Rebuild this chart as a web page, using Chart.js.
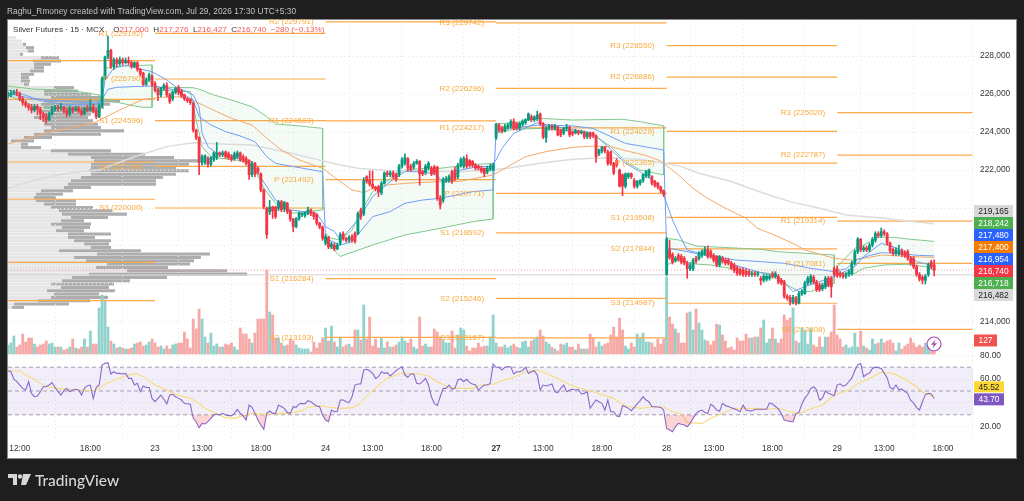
<!DOCTYPE html>
<html>
<head>
<meta charset="utf-8">
<title>Silver Futures</title>
<script src="https://cdn.jsdelivr.net/npm/chart.js@4/dist/chart.umd.min.js"></script>
<style>
body { margin:0; background:#1e1e1e; width:1024px; height:501px; overflow:hidden; position:relative; font-family:"Liberation Sans",sans-serif; }
#panel { position:absolute; left:7px; top:19px; width:1008px; height:438px; background:#fff; border:1px solid #8a8a8a; }
canvas { position:absolute; left:0; top:0; }
#head { position:absolute; left:7px; top:6px; font-size:8.3px; color:#c4c4c4; letter-spacing:.05px; white-space:pre; }
#title { position:absolute; left:13px; top:25px; font-size:8.1px; color:#333; white-space:pre; }
#title span { color:#f0585a; }
#logo { position:absolute; left:35px; top:471px; font:500 15.5px Lato,sans-serif; color:#d6d6d6; }
#mark { position:absolute; left:8px; top:474px; }
</style>
</head>
<body>
<div id="panel"></div>
<canvas id="profile" width="1024" height="501"></canvas>
<canvas id="chart" width="1024" height="501"></canvas>
<div id="head">Raghu_Rmoney created with TradingView.com, Jul 29, 2026 17:30 UTC+5:30</div>
<div id="title">Silver Futures · 15 · MCX    O<span>217,000</span>  H<span>217,276</span>  L<span>216,427</span>  C<span>216,740</span>  <span>−280 (−0.13%)</span></div>
<svg id="mark" width="24" height="12" viewBox="0 0 24 12"><path d="M0 0h9v11H5V4H0z M15 0h8l-5 11h-5z" fill="#d6d6d6"/><circle cx="12" cy="2.5" r="2.2" fill="#d6d6d6"/></svg>
<div id="logo">TradingView</div>
<script>
// candles, one line per session
const opens = [
225900,225950,226050,226100,226000,225750,225550,225400,225300,225150,225350,225200,224950,224800,224650,224950,225200,225300,225250,225300,225100,224950,225250,225150,225250,225100,224950,225250,225150,225300,225100,224800,225400,226800,227950,228300,227450,227800,227600,227800,227650,227750,227650,227450,227650,227300,227100,226500,226750,226950,
226550,226200,225950,226300,226450,225950,225750,226100,226350,226150,225950,225750,225700,225500,224100,223700,222400,222400,222600,222300,222550,222650,222900,222800,222950,222850,222700,222600,222700,222900,222700,222600,222500,221750,222350,222100,221800,220950,219980,219800,220050,220050,219980,220330,219950,220250,219850,219420,219020,219450,219650,219600,219720,219900,219750,219650,219200,219000,
218150,218450,217950,218050,217850,218150,218650,218400,218300,218500,218650,218650,219900,219700,221650,221450,221250,221100,221100,220800,221300,221850,221750,221850,221750,221750,222200,222350,222600,222200,222150,222350,222450,221900,221850,222100,222100,222150,222150,220500,220400,221450,221450,221900,222000,221650,222250,222200,222600,222500,222450,222250,222200,222100,222100,221900,222050,222000,
223700,224350,224200,224050,224250,224300,224550,224450,224200,224400,224500,224650,224800,224650,224700,224950,224450,223700,224200,224300,224200,224250,224100,223950,224200,224250,224000,223950,224050,223950,224000,223750,223950,223950,223800,222850,223000,223200,222950,222950,222350,222500,222000,221750,221150,221650,221800,221450,221150,221300,221450,221700,221700,221650,221400,221300,221100,220900,
216500,217800,217550,217250,217500,217450,217350,217100,216800,216800,217350,217350,217500,217600,217800,217700,217500,217450,217000,217350,217250,217250,217100,217000,216850,216750,216750,216650,216650,216500,216550,216500,216300,216200,216250,216300,216550,216400,216400,216200,216100,215350,215300,215050,215250,215000,215500,215500,216050,216100,216350,216100,215950,215750,215850,216300,216300,216800,
216800,216550,216500,216400,216500,216550,217100,217700,218350,217800,217900,217800,218050,218300,218650,218550,218750,218650,218150,217800,217600,217600,217750,217650,217700,217350,217350,216900,216500,216350,216200,216500,217150,217000];
const closes = [
225950,226050,226100,226000,225750,225550,225400,225300,225150,225350,225200,224950,224800,224650,224950,225200,225300,225250,225300,225100,224950,225250,225150,225250,225100,224950,225250,225150,225300,225100,224800,225400,226800,227950,228300,227450,227800,227600,227800,227650,227750,227650,227450,227650,227300,227050,226500,226750,227000,226500,
226200,225950,226300,226450,225950,225600,226100,226300,226050,225900,225750,225650,225550,224100,223700,222400,222700,222750,222300,222650,222900,222900,222800,222900,222700,222650,222550,222850,222900,222550,222500,222350,221750,222350,221800,221900,220950,220070,218600,220050,219850,219550,220330,219900,220280,219800,219420,219020,219450,219720,219720,219770,219900,219700,219550,219200,219000,218400,
218500,217950,218100,217850,218050,218600,218400,218300,218450,218300,218250,219700,219550,221450,221400,221250,221100,221000,220850,221300,221850,221750,221850,221650,221500,222200,222550,222650,222100,222000,222350,222450,221800,221800,222200,222350,221800,221850,220500,220150,221500,221550,221650,221400,221550,222250,222550,222600,222200,222250,222250,222100,222100,221950,221800,222100,222200,222250,
224400,224100,224050,224300,224350,224550,224200,224200,224450,224550,224650,224950,224650,224800,224900,224450,223750,224200,224300,224200,224300,223850,223850,224200,224250,223850,223900,224050,223950,224000,223750,223950,223750,223800,222700,223050,223200,223000,222350,222350,221850,222250,221150,221150,221800,221800,221650,221150,221400,221450,221750,221900,222000,221300,221200,221100,220900,220700,
218350,217400,217150,217350,217300,217150,217100,216800,217000,217250,217200,217600,217700,217800,217450,217450,217250,217000,217450,217200,217100,217100,216850,216700,216550,216550,216500,216500,216500,216550,216500,216550,216200,216400,216400,216400,216400,216550,216100,216050,215350,215250,215050,215300,215000,215500,215600,216050,216300,216400,216100,215700,215700,215950,216300,215950,215850,216500,
216450,216450,216400,216500,216650,217100,217700,218350,217800,217900,217800,218050,218350,218650,218550,218750,218650,218150,217750,217600,217800,217750,217550,217500,217350,217100,216900,216500,216250,216200,216400,217000,216900,216740];
const highs = [
226100,226200,226200,226250,226100,225850,225650,225500,225450,225450,225450,225300,225050,224950,225050,225350,225400,225400,225500,225350,225250,225350,225300,225350,225350,225250,225300,225400,225700,225450,225250,225500,226900,228000,229050,228350,227900,227900,227950,227900,227900,227950,227750,227700,227700,227350,227150,226850,227100,227000,
226650,226300,226350,226550,226600,226050,226150,226350,226450,226250,226000,225800,225750,225550,224150,223750,222800,222800,222700,222700,222950,223450,222950,223000,223000,222950,222800,222950,223000,222950,222800,222700,222550,222450,222400,222150,221850,221000,220050,220400,220100,220100,220400,220400,220350,220300,219900,219450,219500,219800,219750,219800,220050,219950,219800,219700,219250,219050,
218600,218500,218200,218150,218150,218700,218750,218450,218550,218600,218750,219800,220000,221600,221700,221950,221950,221150,221200,221400,221900,221950,221950,221950,221850,222300,222650,222850,222650,222300,222450,222550,222500,222000,222300,222450,222200,222250,222200,220650,221600,221650,221750,222000,222150,222350,222650,222700,222800,222550,222500,222350,222250,222200,222000,222200,222300,222350,
224450,224450,224300,224400,224450,224650,224700,224500,224500,224650,224700,225000,224900,224850,225100,225000,224500,224300,224400,224400,224400,224300,224150,224250,224400,224300,224050,224150,224100,224100,224050,224000,224000,224000,223850,223100,223250,223250,223050,223000,222400,222600,222050,221800,221850,221850,221850,221550,221450,221500,221800,222000,222050,221700,221450,221350,221150,220950,
218450,218300,217650,217450,217600,217550,217450,217200,217100,217350,217450,217700,217800,217950,218000,217800,217600,217500,217500,217450,217350,217350,217200,217100,216950,216850,216850,216800,216750,216650,216650,216650,216400,216500,216500,216500,216650,216650,216500,216300,216200,215450,215400,215400,215350,215600,215700,216150,216400,216500,216450,216200,216050,216050,216400,216400,216400,216900,
216950,216650,216600,216600,216750,217200,217800,218450,218400,218000,218000,218150,218450,218750,218750,218950,218850,218700,218200,217900,217900,218050,217850,217750,217800,217450,217450,217000,216600,216450,216500,217100,217250,217276];
const lows = [
225800,225850,225950,225900,225650,225400,225300,225150,225000,225050,224900,224650,224550,224450,224600,224900,225100,225100,225150,225000,224800,224850,225000,225100,225000,224850,224900,225050,225100,225000,224700,224750,225300,226750,227850,227350,227300,227450,227500,227550,227600,227550,227350,227400,227200,226950,226450,226450,226650,226400,
226100,225650,225850,226200,225850,225500,225650,226000,225950,225800,225650,225550,225450,224000,223600,221750,222250,222300,222150,222200,222450,222550,222700,222700,222600,222550,222450,222500,222600,222450,222400,222250,221500,221650,221650,221800,220850,219950,218400,219650,219450,219450,219850,219800,219800,219700,219300,218750,218950,219350,219550,219500,219650,219600,219400,219100,218900,218300,
218050,217850,217850,217750,217800,218050,218300,218200,218200,218200,218150,218600,219400,219600,221300,221150,221000,220900,220600,220700,221250,221650,221650,221550,221400,221650,222100,222250,221950,221950,222050,222300,221200,221700,221750,222000,221700,221750,220400,219950,220300,221350,221350,221300,221450,221550,222150,222100,222100,222150,222150,222000,222000,221850,221650,221800,221950,221950,
223600,224000,223950,224000,224150,224200,224100,224100,224100,224300,224400,224600,224550,224550,224600,224350,223650,223450,224100,224100,224100,223800,223750,223850,224050,223750,223800,223900,223850,223900,223650,223650,223650,223700,222400,222750,222900,222900,222250,222250,221750,222150,221100,220650,221050,221550,221550,221050,221050,221200,221350,221600,221600,221200,221100,221000,220800,220600,
216450,217300,217050,217150,217200,217050,217000,216300,216700,216700,217100,217250,217400,217500,217350,217350,217150,216900,216900,217100,217000,217000,216750,216600,216450,216450,216400,216400,216400,216400,216400,216400,215950,216100,216150,216200,216300,216300,216000,215950,215250,215150,214900,214950,214900,214950,215400,215450,215950,216000,216000,215600,215600,215650,215750,215850,215300,216400,
216350,216350,216300,216300,216400,216450,217000,217600,217700,217700,217700,217700,217950,218200,218450,218450,218550,218050,217650,217500,217500,217500,217450,217400,217250,217000,216800,216400,216150,216000,216000,216400,216800,216427];
const volumes = [
450,550,900,350,450,1000,600,800,800,500,350,450,500,650,500,550,350,350,350,200,250,350,750,300,250,350,750,350,1150,500,500,2300,2950,2700,1350,650,500,300,350,300,250,250,300,500,550,600,400,450,600,750,
550,350,400,250,400,250,450,500,550,550,1100,750,300,1750,1250,2250,1750,850,550,1050,400,500,350,350,500,450,550,350,200,1300,1000,1000,750,550,1050,1750,1750,1750,4200,2100,1950,800,800,550,400,450,750,650,450,300,250,250,250,100,600,300,550,800,
1300,650,1400,600,350,850,350,450,500,350,1200,1200,700,2450,750,1850,400,750,300,800,300,600,350,350,450,600,850,650,550,750,350,250,1850,400,500,350,350,1250,1100,800,700,550,550,1150,300,950,1300,1200,400,150,300,300,550,350,400,400,850,1950,
550,350,350,450,300,400,500,350,300,600,650,350,650,750,850,1200,900,600,500,350,250,150,500,450,550,350,350,200,500,250,250,250,1000,800,350,600,400,500,550,950,1350,850,1800,1200,400,250,550,350,1000,800,1050,600,600,550,350,750,500,750,
3850,1850,1500,1250,1050,550,550,2050,2100,1200,2250,1550,1200,700,650,450,650,1500,1450,950,650,300,350,200,800,650,650,1000,800,800,850,850,1300,1700,550,750,1300,750,550,750,1950,1700,1800,2300,650,550,1300,1200,500,1250,450,350,850,350,850,850,1100,
2450,950,750,350,450,300,350,1050,350,1150,400,300,200,750,500,550,750,550,650,700,550,150,550,250,400,500,800,550,350,450,350,550,300,125,127];
const rsi = [
67.1,66.2,60,57.8,55,52.2,50.8,57.8,48,45.2,45.8,49.4,53.6,53.6,55,57,53,49.4,46.6,50.3,52.2,49.4,50.8,51.4,50.8,46.6,52.2,54.5,55,43.8,53,55,71.8,73.2,73.8,64.3,66.2,64.8,64.8,64.3,64.8,60.6,60.6,55,56.4,49.4,54.2,53,53,43.8,41,43.8,
46.6,43,39.1,46.6,47.2,45.2,43.8,42.4,39.6,39.1,39.1,27,24.2,19.2,22.8,22.3,24.2,27,29.8,30.7,29.8,31.2,29.8,29.3,29.3,31.2,34.6,31.2,29,25.6,38.2,36.3,31.2,25.6,21.4,17.8,31.2,33.2,31.2,31.2,38.2,36.8,35.4,31.8,31.2,36.8,36.3,39.1,39.6,39.1,41.9,41,39.1,37.4,36.8,29.8,25.6,24.2,34,32.6,33,
42.4,42.4,41,40.2,45.2,55,55.9,55.9,67.6,68.2,67.1,64.8,60.6,62,66.2,64.8,65.4,62.6,64.8,67.1,69,70.4,63.4,61.5,64.3,64.3,56.4,55.9,57.8,60.6,55,45.2,39.6,37.7,45.2,52.2,52.2,55,51.4,52.2,59.2,60.1,57.8,59.8,57,55.9,55,50.8,53,55,55,56.4,
72.7,69.9,69.9,67.6,69.9,70.4,70.4,64.3,66.2,66.2,67.1,69.9,64.8,66.2,67.1,63.4,50.8,55,54.2,55,55.9,49.4,48.6,52.2,55,49.4,50.8,51.4,50.8,51.4,47.5,48,49.4,35.4,39.1,42.4,41,39.6,34,42.4,32.6,32.6,29,28.4,37.7,36.8,35.4,33.5,36.3,39.1,41.9,45.2,42.4,41,36.8,36.8,36.5,36.2,34,18.6,17.2,15.8,20,22.8,
22,21.4,20,22.8,27,31,33,34,32,31,39,37,34,33,39.6,37.7,37,36,35,34,32.6,38,34,33.5,33.2,34.5,34.6,34.6,34.6,34.6,40,39,37,35,31,25.6,25,24.5,24.2,31,32,39,44,47,52,53.6,51,42.4,44,50,48,47,46,
55,56,54,55,58,61,67,72,73,62,64,65,69,70,69.5,69,65,61,53,51.5,55,51,51.5,49.5,48,42,40,36,34,41,47,48,47.5,43.7];
const rsiMaBars = [0,4,6,9,11,13,17,20,24,29,31,33,36,39,42,44,47,50,54,57,62,65,67,71,74,77,80,83,87,90,93,97,100,102,106,109,113,117,119,123,126,129,133,136,140,143,146,150,153,158,161,165,167,172,176,180,183,188,192,199,206,210,215,219,223,226,229,231,236,239,243,246,250,254,259,262,266,269,272,277,281,286,289,293,297,301,305,309,312,315];
const rsiMa = [67,67,63.4,59.8,56.4,53.6,52.2,51.4,50.8,50.3,52.2,55.9,58.7,62,64,64.3,60.6,55,50.8,47.2,43.8,39.6,35.4,30.6,27.6,27,29.3,31.2,30.6,30.6,31.2,31.8,33.5,36.3,37.7,36.3,35.4,36,38.2,48,55,60.6,64.3,64.8,64.3,62.6,57.8,53,52.2,52.2,55,55.6,57.8,61.5,66.2,67.6,64.8,59.2,54.2,49.4,43.8,37.4,35.4,36.8,36.8,32.6,30.7,23.4,22.8,27,31.2,34.6,35.7,35.2,34.6,35.7,32.6,31.2,34,38.2,46.6,50.8,56.4,60.6,65.7,64.8,60.1,53.6,47.5,45.52];
const rsiLevels = [70,50,30];

// moving averages and session vwap
const emaBars = [0,10,20,30,32,33,36,40,44,49,54,57,63,65,66,68,71,76,82,85,88,91,96,105,108,111,113,119,124,130,135,141,146,148,150,154,160,164,166,168,172,177,180,185,199,204,210,215,222,226,228,231,239,247,256,262,267,271,281,288,291,294,297,301,305,309,315];
const ema = [226035,225685,225420,225470,225685,226740,227350,227530,227350,227175,226740,226390,225950,225330,223930,223230,222880,222790,222350,221825,221125,220420,219900,219720,219020,218760,218320,219370,220600,221390,221915,221915,221740,221300,221475,222000,222180,222180,222530,223140,223930,224280,224490,224320,223930,223230,222350,221915,221125,219370,218690,217790,217440,217000,216600,216390,215600,215860,216390,216910,217440,217790,218140,217965,217700,217175,216954];
const slowBars = [0,12,29,38,46,52,60,65,71,76,83,88,93,99,107,113,117,121,124,129,135,147,153,158,165,170,176,183,192,199,205,210,217,222,228,233,237,244,251,255,262,268,271,281,287,291,297,307,315];
const slowEma = [223370,223930,224460,225160,225720,225825,225860,225510,225070,224720,224370,223670,223050,222530,222090,221390,220950,220810,221035,221210,221300,221390,221390,221530,221740,222180,222700,222970,223190,223260,223230,223020,222760,222475,221740,221035,220600,219985,219460,218930,218490,218055,217790,217350,217260,217350,217525,217440,217400];
const smaBars = [0,9,20,31,43,54,63,72,83,94,105,113,119,130,141,152,164,170,181,192,203,215,228,235,246,257,266,276,285,298,307,315];
const sma = [221030,221475,221825,222000,222700,223230,223440,223370,223320,222965,222560,222265,222090,221965,221965,221910,222000,222090,222350,222560,222650,222560,222230,221825,221390,220775,220335,219985,219635,219460,219285,219165];
const vwapBars = [0,4,9,14,21,30,32,34,37,43,49,50,57,63,65,69,74,79,84,88,91,97,107,108,113,117,124,130,135,141,147,158,165,166,170,181,192,199,210,223,224,228,234,239,247,256,264,273,281,282,285,289,293,297,303,310,315];
const vwap = [226210,226035,225770,225685,225600,225510,225720,226250,226350,226390,226420,226420,226210,225685,224810,224370,224020,223790,223490,222700,222350,222180,221910,218400,218050,218230,219545,219810,220250,220420,220510,220860,220950,224020,224190,224370,224320,224190,223400,223050,217900,217790,217615,217530,217265,217175,217090,216825,216650,216700,216800,217300,217500,217650,217600,217500,217480];
const bandTopBars = [[0,9,21,31,31],[32,33,36,43,49,49],[50,56,63,65,70,76,83,88,91,99,107,107],[108,110,113,117,121,124,130,135,142,147,156,165,165],[166,172,181,192,209,215,223,223],[224,228,234,256,262,271,281,281],[282,288,291,296,301,307,315]];
const bandTop = [[226420,226250,226210,225950,225160],[226210,227350,227440,227490,227530,225300],[226350,226350,226330,226250,225950,225685,225330,224810,224420,224320,224190,219900],[218670,218400,218320,218840,220070,220860,221560,222000,222090,222090,222260,222350,219420],[224420,224490,224720,224630,224670,224545,224320,221740],[218400,218320,218000,217825,217700,217615,217530,216035],[216910,217880,218055,218460,218460,218355,218242]];
const bandBotBars = [[0,9,21,31],[32,36,43,46,49],[50,62,64,66,69,72,76,81,84,87,91,97,107],[108,112,113,124,135,147,158,165],[166,172,181,194,200,205,210,215,223],[224,228,234,239,252,259,264,269,273,281],[282,288,291,298,305,312,315]];
const bandBot = [[225950,225330,225190,225160],[225770,225600,225370,225300,225300],[226210,226125,224630,223230,222700,222615,222560,222440,222000,221035,220250,219720,219900],[218300,217600,217450,218050,218580,218930,219280,219420],[223930,224140,224190,224020,223750,223230,222440,222000,221740],[217000,217260,217050,217000,216650,216560,216035,215600,215600,216035],[216560,216560,216825,217000,217035,216910,216718]];

// pivots, one list per session
const pivotStart = [0,50,108,166,224,282];
const pivotEnd = [50,108,166,224,282,328];
const pivotNames = [[],["R1","P","S1","S2","S3"],["R2","R1","P","S1","S2"],["R3","R2","R1","P","S1","S2","S3"],["R3","R2","R1","P","S1","S2","S3"],["R3","R2","R1","P","S1"]];
const pivotValues = [[227754,225720,222420,220460,217142,215120],[229192,226790,224596,222194,220000],[229791,224583,221492,216284,213193],[229742,226296,224217,220771,218692,215246,213167],[228550,226886,224029,222365,219508,217844,214987],[225020,222787,219314,217081,213608]];

// volume profile rows, top row first
const profileLight = [8,14,15,18,20,12,33,25,26,26,22,13,13,13,16,46,36,36,43,36,33,36,30,36,26,36,36,43,36,26,16,3,13,13,43,60,83,86,83,83,81,83,73,63,60,56,33,28,26,28,36,43,51,54,63,53,43,54,48,60,60,66,76,83,51,89,66,78,99,88,119,81,64,54,43,53,39,46,43,30,6,4];
const profileDark = [0,0,3,8,6,3,18,28,17,10,14,13,8,9,5,20,34,47,50,76,69,60,63,47,54,49,54,50,80,67,28,23,7,20,60,77,83,104,98,85,100,85,82,85,88,27,32,27,22,40,32,42,53,65,37,23,40,28,28,43,27,37,25,20,82,113,127,108,83,72,100,158,95,68,63,48,68,45,57,52,55,12];

const tickBars = [4,28,50,66,86,108,124,144,166,182,202,224,240,260,282,298,318];
const tickLabels = ["12:00","18:00","23","13:00","18:00","24","13:00","18:00","27","13:00","18:00","28","13:00","18:00","29","13:00","18:00"];
const priceTicks = [228000,226000,224000,222000,220000,218000,216000,214000];
const hiddenPriceTicks = [220000,218000,216000];
const rsiTicks = [80,60,40,20];
const priceTags = [219165,218242,217480,217400,216954,216740,216718,216482];
const priceTagColors = ["#d9d9d9","#4caf50","#2962ff","#f57c00","#2962ff","#f23645","#4caf50","#d9d9d9"];
const lastPrice = 216740;
const lastLow = 216482;
const lastVolume = 127;
const rsiTags = [45.52,43.70];

const GREEN = "#089981", RED = "#f23645", FONT = '"Liberation Sans",sans-serif';
const pts = (xs, ys) => xs.map((x, i) => ({x: x, y: ys[i]}));
const idx = closes.map((c, i) => i);
const isUp = idx.map(i => closes[i] >= opens[i]);

function lineSet(data, color, order, axis, width) {
    return {type: "line", data: data, borderColor: color, borderWidth: width || 1, pointRadius: 0,
        tension: 0, order: order, yAxisID: axis || "y", fill: false};
}

const datasets = [];
datasets.push({data: idx.map(i => ({x: i, y: [opens[i], closes[i]]})), backgroundColor: idx.map(i => isUp[i] ? GREEN : RED),
    barThickness: 2.2, grouped: false, order: 1, yAxisID: "y"});
datasets.push({data: idx.map(i => ({x: i, y: [lows[i], highs[i]]})), backgroundColor: idx.map(i => isUp[i] ? GREEN : RED),
    barThickness: 1, grouped: false, order: 2, yAxisID: "y"});
datasets.push({data: idx.map(i => ({x: i, y: volumes[i]})), backgroundColor: idx.map(i => isUp[i] ? "#92d2cc" : "#f7a9a7"),
    barThickness: 2.2, grouped: false, order: 9, yAxisID: "yVol"});
datasets.push(lineSet(pts(emaBars, ema), "#6f9df7", 3));
datasets.push(lineSet(pts(vwapBars, vwap), "#6f9df7", 3));
datasets.push(lineSet(pts(slowBars, slowEma), "#f5a868", 5));
datasets.push(lineSet(pts(smaBars, sma), "#dcdcdc", 6, "y", 1.5));
bandTop.forEach((vals, s) => {
    const top = lineSet(pts(bandTopBars[s], vals), "#82c98c", 7);
    top.fill = "+1";
    top.backgroundColor = "rgba(76,175,80,0.06)";
    datasets.push(top);
    datasets.push(lineSet(pts(bandBotBars[s], bandBot[s]), "#82c98c", 7));
});
const pivotLine = [];
pivotValues.forEach((vals, s) => vals.forEach(v => {
    pivotLine.push({x: pivotStart[s], y: v}, {x: pivotEnd[s], y: v}, {x: pivotEnd[s], y: null});
}));
datasets.push(lineSet(pivotLine, "#ffa94d", 8, "y", 1.2));
const lastLine = lineSet(pts([0, 329], [lastPrice, lastPrice]), "#f4a0a0", 8);
lastLine.borderDash = [1, 2];
datasets.push(lastLine);
datasets.push(lineSet(pts([0, 329], [lastLow, lastLow]), "#d0d0d0", 8));
// rsi pane
const rsiLine = lineSet(idx.map(i => ({x: i, y: rsi[i]})), "#8a68cc", 3, "yRsi", 1.1);
rsiLine.fill = {target: {value: 30}, above: "rgba(0,0,0,0)", below: "rgba(239,83,80,0.25)"};
datasets.push(rsiLine);
datasets.push(lineSet(pts(rsiMaBars, rsiMa), "#f7dc7c", 4, "yRsi", 1.1));
rsiLevels.forEach(lv => {
    const d = lineSet(pts([0, 329], [lv, lv]), "#a39fb0", 10, "yRsi");
    d.borderDash = [4, 3];
    datasets.push(d);
});
const rsiFill = lineSet(pts([0, 329], [70, 70]), "rgba(0,0,0,0)", 11, "yRsi");
rsiFill.fill = {target: {value: 30}, above: "rgba(126,87,194,0.10)", below: "rgba(0,0,0,0)"};
datasets.push(rsiFill);

// pivot labels, rsi axis labels, value tags and the little bolt badge
const overlay = {
    id: "overlay",
    afterDraw(chart) {
        const c = chart.ctx, s = chart.scales;
        c.save();
        c.textBaseline = "middle";
        c.font = "8px " + FONT;
        c.textAlign = "right";
        c.fillStyle = "#f9a93c";
        pivotNames.forEach((names, n) => names.forEach((name, k) => {
            c.fillText(name + " (" + pivotValues[n][k] + ")", s.x.getPixelForValue(pivotStart[n]) - 12, s.y.getPixelForValue(pivotValues[n][k]));
        }));
        // the rsi axis has no room of its own, so its labels go here
        c.textAlign = "left";
        c.fillStyle = "#333";
        c.font = "8.4px " + FONT;
        rsiTicks.forEach(v => c.fillText(v.toFixed(2), 980, s.yRsi.getPixelForValue(v)));
        // tags stack downwards from the top one, the way the platform spreads them
        c.textAlign = "center";
        priceTags.forEach((v, k) => {
            tag(c, 974, 205 + k * 12, 39, 12, priceTagColors[k], priceTagColors[k] === "#d9d9d9" ? "#222" : "#fff", v.toLocaleString("en-US"));
        });
        const volY = s.yVol.getPixelForValue(lastVolume);
        tag(c, 974, volY - 17, 23, 12, "#ef5350", "#fff", String(lastVolume));
        const rsiY = s.yRsi.getPixelForValue(rsiTags[0]);
        tag(c, 974, rsiY - 15, 30, 11, "#fdd835", "#222", rsiTags[0].toFixed(2));
        tag(c, 974, rsiY - 3, 30, 12, "#7e57c2", "#fff", rsiTags[1].toFixed(2));
        // bolt
        c.strokeStyle = "#ab47bc"; c.lineWidth = 1.2;
        c.fillStyle = "#fff";
        c.beginPath(); c.arc(934, 344, 7, 0, Math.PI * 2); c.fill(); c.stroke();
        c.fillStyle = "#ab47bc";
        c.beginPath(); c.moveTo(935.5, 339.5); c.lineTo(931, 344.8); c.lineTo(933.8, 344.8); c.lineTo(932.5, 348.5); c.lineTo(937, 343.2); c.lineTo(934.2, 343.2); c.closePath(); c.fill();
        c.restore();
    }
};
function tag(c, x, y, w, h, bg, fg, text) {
    c.fillStyle = bg;
    c.fillRect(x, y, w, h);
    c.fillStyle = fg;
    c.font = "8.4px " + FONT;
    c.fillText(text, x + w / 2, y + h / 2 + 0.5);
}

new Chart(document.getElementById("chart"), {
    type: "bar",
    data: {datasets: datasets},
    plugins: [overlay],
    options: {
        responsive: false, animation: false, events: [],
        layout: {padding: {left: 8, right: 8, top: 20, bottom: 43}},
        plugins: {legend: {display: false}, tooltip: {enabled: false}},
        scales: {
            x: {type: "linear", min: 0, max: 328.2, offset: false,
                grid: {color: "#e6e6e6", tickLength: 0}, border: {display: false, dash: [1, 3]},
                afterBuildTicks: s => { s.ticks = tickBars.map(v => ({value: v})); },
                afterFit: s => { s.height = 18; },
                ticks: {autoSkip: false, maxRotation: 0, color: "#333", padding: 4,
                    font: ctx => ({size: 8.4, family: FONT, weight: ctx.tick && ctx.tick.value === 166 ? "bold" : "normal"}),
                    callback: v => tickLabels[tickBars.indexOf(v)]}},
            y: {position: "right", min: 207789.47, max: 229894.74,
                grid: {color: "#e6e6e6", tickLength: 0}, border: {display: false, dash: [1, 3]},
                afterBuildTicks: s => { s.ticks = priceTicks.map(v => ({value: v})); },
                afterFit: s => { s.width = 43; },
                ticks: {color: "#333", padding: 7, font: {size: 8.4, family: FONT},
                    callback: v => hiddenPriceTicks.includes(v) ? "" : v.toLocaleString("en-US")}},
            yRsi: {position: "right", weight: -1, min: 8.82, max: 361.76,
                grid: {color: "#e6e6e6", tickLength: 0}, border: {display: false, dash: [1, 3]},
                afterBuildTicks: s => { s.ticks = rsiTicks.map(v => ({value: v})); },
                afterFit: s => { s.width = 0; },
                ticks: {display: false}},
            yVol: {display: false, min: -4300, max: 16700}
        }
    }
});

// profile sits on its own canvas underneath the candles
new Chart(document.getElementById("profile"), {
    type: "bar",
    data: {
        labels: profileLight.map((v, i) => i),
        datasets: [
            {data: profileLight, backgroundColor: "#e6e6e6", categoryPercentage: 1, barPercentage: 0.92},
            {data: profileDark, backgroundColor: "#adadad", categoryPercentage: 1, barPercentage: 0.92}
        ]
    },
    options: {
        indexAxis: "y", responsive: false, animation: false, events: [],
        layout: {padding: {left: 8, right: 716, top: 36, bottom: 192}},
        plugins: {legend: {display: false}, tooltip: {enabled: false}},
        scales: {
            x: {stacked: true, display: false, min: 0, max: 300},
            y: {stacked: true, display: false}
        }
    }
});
</script>
</body>
</html>
